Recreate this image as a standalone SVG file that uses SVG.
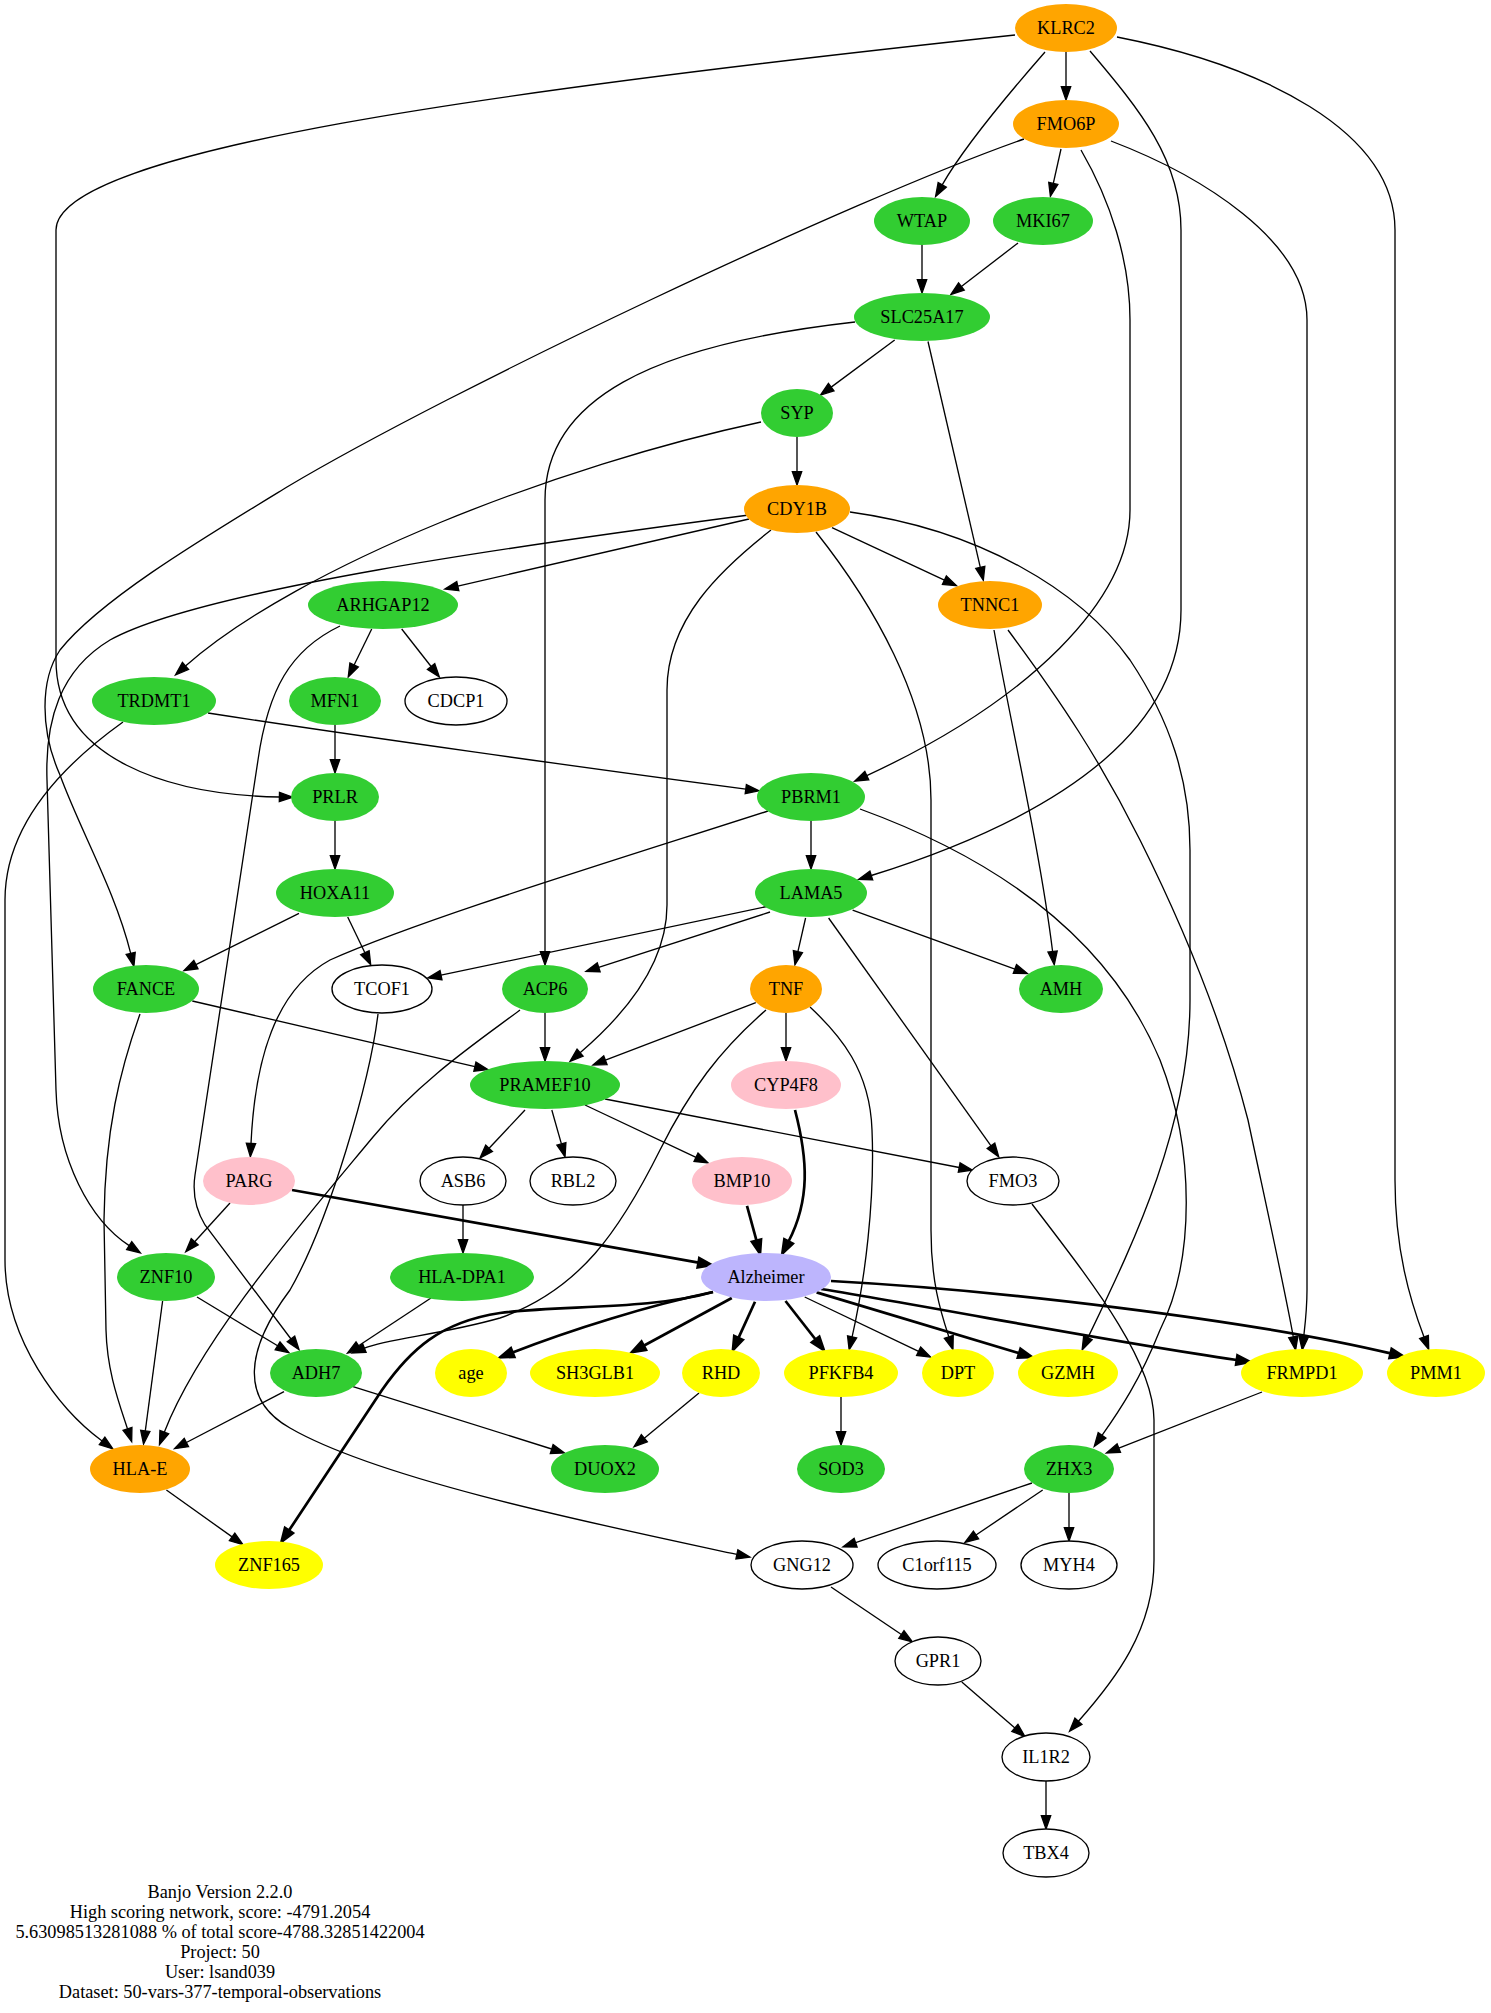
<svg xmlns="http://www.w3.org/2000/svg" width="1491" height="2013" viewBox="0 0 1491 2013">
<style>
.e{fill:none;stroke:#000;stroke-width:1.33;marker-end:url(#a)}
.b{fill:none;stroke:#000;stroke-width:2.7;marker-end:url(#ab)}
text{font-family:"Liberation Serif","Times New Roman",serif;font-size:18.3px;text-anchor:middle;fill:#000}
.o{fill:#ffa500}
.g{fill:#32cd32}
.p{fill:#ffc0cb}
.y{fill:#ffff00}
.v{fill:#bdb5fd}
.w{fill:#fff;stroke:#000;stroke-width:1.33}
</style>
<defs>
<marker id="a" markerUnits="userSpaceOnUse" markerWidth="20" markerHeight="16" refX="2" refY="8" orient="auto" overflow="visible">
<path d="M2,3.33 L15.33,8 L2,12.67 Z" fill="#000" stroke="#000" stroke-width="1.33"/>
</marker>
<marker id="ab" markerUnits="userSpaceOnUse" markerWidth="20" markerHeight="16" refX="2" refY="8" orient="auto" overflow="visible">
<path d="M2,3.33 L15.33,8 L2,12.67 Z" fill="#000" stroke="#000" stroke-width="2.7"/>
</marker>
</defs>
<rect width="1491" height="2013" fill="#fff"/>
<g id="edges">
<path class="e" d="M1066,52 V86.7"/>
<path class="e" d="M1045,52 C1010,92 965,145 942.2,184.9"/>
<path class="e" d="M1015,35 C500,90 56,150 56,230 V660 C56,760 170,795 279.4,797"/>
<path class="e" d="M1090,51 C1140,110 1181,160 1181,230 V610 C1181,720 1080,810 871.3,875.5"/>
<path class="e" d="M1117,37 C1260,65 1395,130 1395,230 V1180 C1395,1250 1410,1300 1424,1337"/>
<path class="e" d="M1061,149 L1053.3,183.4"/>
<path class="e" d="M1024,139 C850,200 450,390 287,487 C200,540 100,600 60,650 C40,680 40,730 60,775 C80,830 115,890 130.7,953.4"/>
<path class="e" d="M1081,150 C1110,200 1130,260 1130,320 V510 C1130,600 1030,700 866.8,775.6"/>
<path class="e" d="M1111,141 C1200,175 1307,240 1307,320 V1290 C1307,1310 1305,1325 1303.7,1336.7"/>
<path class="e" d="M922,245 V279.7"/>
<path class="e" d="M1018,243 L961.4,286.5"/>
<path class="e" d="M894.7,340 L831.2,387.1"/>
<path class="e" d="M855,322 C650,345 545,400 545,500 V951.7"/>
<path class="e" d="M928,341.5 L980.3,567.3"/>
<path class="e" d="M797,437 V471.7"/>
<path class="e" d="M761,422 C560,465 300,565 185.5,666"/>
<path class="e" d="M749,519 L457.8,586.1"/>
<path class="e" d="M832,527.6 L944.4,580.1"/>
<path class="e" d="M749,515 C520,545 200,590 110,640 C60,670 45,720 47,780 L56,1090 C58,1160 90,1220 129.2,1245.6"/>
<path class="e" d="M771,530 C720,570 667,620 667,690 V905 C667,960 630,1010 580.1,1052.7"/>
<path class="e" d="M816,532 C870,600 931,700 931,800 V1230 C931,1280 940,1310 948.8,1336.8"/>
<path class="e" d="M850,512 C980,530 1080,590 1130,660 C1170,720 1190,780 1190,850 V1000 C1190,1130 1130,1250 1087.9,1337.8"/>
<path class="e" d="M371.7,629 L354.1,665"/>
<path class="e" d="M401.7,629 L431.1,666.5"/>
<path class="e" d="M340,626 C290,650 268,690 258,760 L195,1175 C192,1195 196,1210 205,1225 L291,1339"/>
<path class="e" d="M208,713 C350,735 600,770 745.8,789.1"/>
<path class="e" d="M123,722 C70,760 5,820 5,900 V1260 C5,1340 60,1410 102.1,1441"/>
<path class="e" d="M335,725 V759.7"/>
<path class="e" d="M335,821 V855.7"/>
<path class="e" d="M994,630 C1010,720 1040,850 1052.6,951.5"/>
<path class="e" d="M1008,630 C1060,700 1100,760 1140,840 C1200,960 1230,1050 1248,1120 C1265,1200 1285,1290 1293.3,1337"/>
<path class="e" d="M811,821 V855.7"/>
<path class="e" d="M768,811 C600,865 420,920 330,960 C275,990 255,1060 251,1143.4"/>
<path class="e" d="M860,809 C1000,860 1110,940 1160,1060 C1195,1150 1195,1260 1160,1330 C1140,1380 1120,1410 1102,1435.4"/>
<path class="e" d="M299,913.4 L195.9,964.6"/>
<path class="e" d="M347.7,917 L364.9,952.7"/>
<path class="e" d="M769,906 L441,975.2"/>
<path class="e" d="M770,912 L598.7,967.3"/>
<path class="e" d="M805.6,918 L797.9,951.7"/>
<path class="e" d="M852.6,910 L1014.9,969"/>
<path class="e" d="M828.6,918 L991,1145.9"/>
<path class="e" d="M192.3,1001 L474.9,1066.6"/>
<path class="e" d="M140,1014 C120,1070 105,1130 104,1220 L106,1330 C107,1370 118,1400 127.5,1428.9"/>
<path class="e" d="M378,1014 C370,1080 330,1220 290,1290 C245,1350 240,1400 290,1428 C380,1480 600,1525 736.9,1554.4"/>
<path class="e" d="M520,1010 C480,1040 420,1080 373,1137 C300,1225 200,1340 164.3,1432.2"/>
<path class="e" d="M545,1013 V1047.7"/>
<path class="e" d="M755.8,1002.7 L605.4,1060.2"/>
<path class="e" d="M786,1013 V1047.7"/>
<path class="e" d="M766,1010 C720,1050 690,1090 660,1150 C620,1230 580,1290 500,1318 C440,1335 390,1338 364.4,1348.1"/>
<path class="e" d="M810,1007 C840,1035 870,1070 872,1130 C875,1200 865,1280 852.1,1336.8"/>
<path class="e" d="M525,1110 L489.1,1148.3"/>
<path class="e" d="M551.8,1110 L561.4,1143.9"/>
<path class="e" d="M585,1105 L696,1157.3"/>
<path class="e" d="M605,1099 L959.2,1167.5"/>
<path class="b" d="M795,1110 C808,1160 810,1200 788.5,1241.5"/>
<path class="e" d="M230,1203 L194.7,1241.8"/>
<path class="b" d="M292,1190 L698.5,1262.7"/>
<path class="e" d="M463,1205 V1239.7"/>
<path class="b" d="M747,1205.8 L756.5,1240.7"/>
<path class="e" d="M1032,1204 C1090,1280 1154,1360 1154,1420 V1560 C1154,1630 1115,1680 1078.4,1721.3"/>
<path class="e" d="M197,1297 L277.6,1345.8"/>
<path class="e" d="M162.6,1301 L145.3,1430.8"/>
<path class="e" d="M431,1298 L358.6,1345.7"/>
<path class="b" d="M713,1292 C650,1305 570,1330 512.6,1352.5"/>
<path class="b" d="M731.8,1298 L643.7,1345.7"/>
<path class="b" d="M755,1301.7 L738.5,1337.9"/>
<path class="b" d="M785.5,1301 L815.6,1339.5"/>
<path class="e" d="M804.7,1297 L918.6,1351.3"/>
<path class="b" d="M816.6,1292.4 L1019.2,1353.2"/>
<path class="b" d="M821,1289 C950,1310 1100,1340 1236.8,1360"/>
<path class="b" d="M831,1281 C1000,1290 1250,1320 1390.6,1353.4"/>
<path class="b" d="M713,1292 C650,1310 560,1305 500,1313 C440,1322 410,1350 382,1390 L288.9,1530.6"/>
<path class="e" d="M284,1391.7 L186.4,1442.5"/>
<path class="e" d="M353,1386.7 L551.7,1449"/>
<path class="e" d="M699,1393 L644.3,1438.2"/>
<path class="e" d="M841,1397 V1431.7"/>
<path class="e" d="M1262,1392 L1118.8,1448.1"/>
<path class="e" d="M166.4,1490 L232.1,1536.9"/>
<path class="e" d="M1032,1483 L855.6,1542.7"/>
<path class="e" d="M1042.7,1490 L976,1535"/>
<path class="e" d="M1069,1493 V1527.7"/>
<path class="e" d="M831,1587 L901.4,1634.5"/>
<path class="e" d="M961.8,1682 L1014.9,1727.9"/>
<path class="e" d="M1046,1781 V1815.7"/>
</g>
<g id="n-KLRC2"><ellipse class="o" cx="1066" cy="28" rx="51" ry="24"/><text x="1066" y="34">KLRC2</text></g>
<g id="n-FMO6P"><ellipse class="o" cx="1066" cy="124" rx="53" ry="24"/><text x="1066" y="130">FMO6P</text></g>
<g id="n-WTAP"><ellipse class="g" cx="922" cy="221" rx="48" ry="24"/><text x="922" y="227">WTAP</text></g>
<g id="n-MKI67"><ellipse class="g" cx="1043" cy="221" rx="50" ry="24"/><text x="1043" y="227">MKI67</text></g>
<g id="n-SLC25A17"><ellipse class="g" cx="922" cy="317" rx="68" ry="24"/><text x="922" y="323">SLC25A17</text></g>
<g id="n-SYP"><ellipse class="g" cx="797" cy="413" rx="36" ry="24"/><text x="797" y="419">SYP</text></g>
<g id="n-CDY1B"><ellipse class="o" cx="797" cy="509" rx="53" ry="24"/><text x="797" y="515">CDY1B</text></g>
<g id="n-ARHGAP12"><ellipse class="g" cx="383" cy="605" rx="75" ry="24"/><text x="383" y="611">ARHGAP12</text></g>
<g id="n-TNNC1"><ellipse class="o" cx="990" cy="605" rx="52" ry="24"/><text x="990" y="611">TNNC1</text></g>
<g id="n-TRDMT1"><ellipse class="g" cx="154" cy="701" rx="62" ry="24"/><text x="154" y="707">TRDMT1</text></g>
<g id="n-MFN1"><ellipse class="g" cx="335" cy="701" rx="46" ry="24"/><text x="335" y="707">MFN1</text></g>
<g id="n-CDCP1"><ellipse class="w" cx="456" cy="701" rx="51" ry="24"/><text x="456" y="707">CDCP1</text></g>
<g id="n-PRLR"><ellipse class="g" cx="335" cy="797" rx="44" ry="24"/><text x="335" y="803">PRLR</text></g>
<g id="n-PBRM1"><ellipse class="g" cx="811" cy="797" rx="54" ry="24"/><text x="811" y="803">PBRM1</text></g>
<g id="n-HOXA11"><ellipse class="g" cx="335" cy="893" rx="59" ry="24"/><text x="335" y="899">HOXA11</text></g>
<g id="n-LAMA5"><ellipse class="g" cx="811" cy="893" rx="56" ry="24"/><text x="811" y="899">LAMA5</text></g>
<g id="n-FANCE"><ellipse class="g" cx="146" cy="989" rx="53" ry="24"/><text x="146" y="995">FANCE</text></g>
<g id="n-TCOF1"><ellipse class="w" cx="382" cy="989" rx="50" ry="24"/><text x="382" y="995">TCOF1</text></g>
<g id="n-ACP6"><ellipse class="g" cx="545" cy="989" rx="43" ry="24"/><text x="545" y="995">ACP6</text></g>
<g id="n-TNF"><ellipse class="o" cx="786" cy="989" rx="36" ry="24"/><text x="786" y="995">TNF</text></g>
<g id="n-AMH"><ellipse class="g" cx="1061" cy="989" rx="42" ry="24"/><text x="1061" y="995">AMH</text></g>
<g id="n-PRAMEF10"><ellipse class="g" cx="545" cy="1085" rx="75" ry="24"/><text x="545" y="1091">PRAMEF10</text></g>
<g id="n-CYP4F8"><ellipse class="p" cx="786" cy="1085" rx="55" ry="24"/><text x="786" y="1091">CYP4F8</text></g>
<g id="n-PARG"><ellipse class="p" cx="249" cy="1181" rx="46" ry="24"/><text x="249" y="1187">PARG</text></g>
<g id="n-ASB6"><ellipse class="w" cx="463" cy="1181" rx="43" ry="24"/><text x="463" y="1187">ASB6</text></g>
<g id="n-RBL2"><ellipse class="w" cx="573" cy="1181" rx="43" ry="24"/><text x="573" y="1187">RBL2</text></g>
<g id="n-BMP10"><ellipse class="p" cx="742" cy="1181" rx="50" ry="24"/><text x="742" y="1187">BMP10</text></g>
<g id="n-FMO3"><ellipse class="w" cx="1013" cy="1181" rx="46" ry="24"/><text x="1013" y="1187">FMO3</text></g>
<g id="n-ZNF10"><ellipse class="g" cx="166" cy="1277" rx="49" ry="24"/><text x="166" y="1283">ZNF10</text></g>
<g id="n-HLA-DPA1"><ellipse class="g" cx="462" cy="1277" rx="72" ry="24"/><text x="462" y="1283">HLA-DPA1</text></g>
<g id="n-Alzheimer"><ellipse class="v" cx="766" cy="1277" rx="65" ry="24"/><text x="766" y="1283">Alzheimer</text></g>
<g id="n-ADH7"><ellipse class="g" cx="316" cy="1373" rx="46" ry="24"/><text x="316" y="1379">ADH7</text></g>
<g id="n-age"><ellipse class="y" cx="471" cy="1373" rx="36" ry="24"/><text x="471" y="1379">age</text></g>
<g id="n-SH3GLB1"><ellipse class="y" cx="595" cy="1373" rx="65" ry="24"/><text x="595" y="1379">SH3GLB1</text></g>
<g id="n-RHD"><ellipse class="y" cx="721" cy="1373" rx="39" ry="24"/><text x="721" y="1379">RHD</text></g>
<g id="n-PFKFB4"><ellipse class="y" cx="841" cy="1373" rx="57" ry="24"/><text x="841" y="1379">PFKFB4</text></g>
<g id="n-DPT"><ellipse class="y" cx="958" cy="1373" rx="36" ry="24"/><text x="958" y="1379">DPT</text></g>
<g id="n-GZMH"><ellipse class="y" cx="1068" cy="1373" rx="50" ry="24"/><text x="1068" y="1379">GZMH</text></g>
<g id="n-FRMPD1"><ellipse class="y" cx="1302" cy="1373" rx="61" ry="24"/><text x="1302" y="1379">FRMPD1</text></g>
<g id="n-PMM1"><ellipse class="y" cx="1436" cy="1373" rx="49" ry="24"/><text x="1436" y="1379">PMM1</text></g>
<g id="n-HLA-E"><ellipse class="o" cx="140" cy="1469" rx="50" ry="24"/><text x="140" y="1475">HLA-E</text></g>
<g id="n-DUOX2"><ellipse class="g" cx="605" cy="1469" rx="54" ry="24"/><text x="605" y="1475">DUOX2</text></g>
<g id="n-SOD3"><ellipse class="g" cx="841" cy="1469" rx="44" ry="24"/><text x="841" y="1475">SOD3</text></g>
<g id="n-ZHX3"><ellipse class="g" cx="1069" cy="1469" rx="45" ry="24"/><text x="1069" y="1475">ZHX3</text></g>
<g id="n-ZNF165"><ellipse class="y" cx="269" cy="1565" rx="54" ry="24"/><text x="269" y="1571">ZNF165</text></g>
<g id="n-GNG12"><ellipse class="w" cx="802" cy="1565" rx="51" ry="24"/><text x="802" y="1571">GNG12</text></g>
<g id="n-C1orf115"><ellipse class="w" cx="937" cy="1565" rx="59" ry="24"/><text x="937" y="1571">C1orf115</text></g>
<g id="n-MYH4"><ellipse class="w" cx="1069" cy="1565" rx="48" ry="24"/><text x="1069" y="1571">MYH4</text></g>
<g id="n-GPR1"><ellipse class="w" cx="938" cy="1661" rx="43" ry="24"/><text x="938" y="1667">GPR1</text></g>
<g id="n-IL1R2"><ellipse class="w" cx="1046" cy="1757" rx="44" ry="24"/><text x="1046" y="1763">IL1R2</text></g>
<g id="n-TBX4"><ellipse class="w" cx="1046" cy="1853" rx="43" ry="24"/><text x="1046" y="1859">TBX4</text></g>
<g id="footer">
<text x="220" y="1898">Banjo Version 2.2.0</text>
<text x="220" y="1918">High scoring network, score: -4791.2054</text>
<text x="220" y="1938">5.63098513281088 % of total score-4788.32851422004</text>
<text x="220" y="1958">Project: 50</text>
<text x="220" y="1978">User: lsand039</text>
<text x="220" y="1998">Dataset: 50-vars-377-temporal-observations</text>
</g>
</svg>
